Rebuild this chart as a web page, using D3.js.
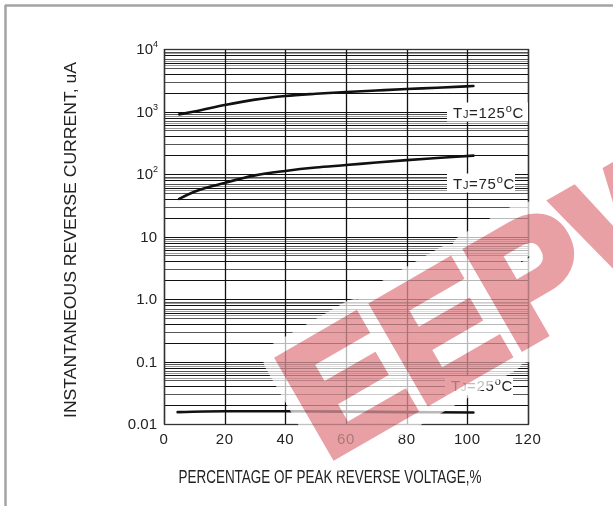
<!DOCTYPE html>
<html><head><meta charset="utf-8">
<script src="https://cdn.jsdelivr.net/npm/d3@7"></script>
<style>
html,body{margin:0;padding:0;background:#fff;}
svg{display:block;}
text{font-family:"Liberation Sans",Arial,sans-serif;}
</style></head>
<body><svg id="c" width="613" height="506"></svg>
<script>
// ---- data ----
const xTicks = [0, 20, 40, 60, 80, 100, 120];
const yTicks = [1e4, 1e3, 1e2, 10, 1, 0.1, 0.01];
const yTickLabels = [["10","4"], ["10","3"], ["10","2"], ["10",""], ["1.0",""], ["0.1",""], ["0.01",""]];
const xPct = [5, 10, 20, 30, 40, 50, 60, 70, 80, 90, 102];
const i125 = [900, 1000, 1270, 1550, 1770, 1920, 2050, 2170, 2290, 2400, 2560];
const i75  = [40, 52, 72, 95, 112, 127, 139, 153, 167, 180, 197];
const x25  = [4.5, 20, 40, 60, 80, 102];
const i25  = [0.0155, 0.0160, 0.0160, 0.0158, 0.0155, 0.0153];
const seriesLabels = [
  {t:"125", v:1000},
  {t:"75", v:73},
  {t:"25", v:0.042}
];
const minorMajor = [2,3,4,5,6,7,8,9];
const minorGrey = [5.5,6.5,8.5];

const svg = d3.select("#c");
const x = d3.scaleLinear().domain([0,120]).range([164,528]);
const y = d3.scaleLog().domain([0.01,1e4]).range([424,49]);

// frame
svg.append("line").attr("x1",5).attr("x2",613).attr("y1",5.5).attr("y2",5.5).attr("stroke","#a3a3a3").attr("stroke-width",2.5);
svg.append("line").attr("x1",5.5).attr("x2",5.5).attr("y1",5).attr("y2",506).attr("stroke","#a3a3a3").attr("stroke-width",2.5);

const g = svg.append("g");
// horizontal grid
const decades = [0.01,0.1,1,10,100,1000];
decades.forEach(d=>{
  minorGrey.forEach(m=>{
    g.append("line").attr("x1",164).attr("x2",528).attr("y1",Math.round(y(d*m))+0.5).attr("y2",Math.round(y(d*m))+0.5).attr("stroke","#999").attr("stroke-width",1);
  });
  minorMajor.forEach((m,k)=>{
    g.append("line").attr("x1",164).attr("x2",528).attr("y1",Math.round(y(d*m))+0.5).attr("y2",Math.round(y(d*m))+0.5).attr("stroke", k%2 ? "#555" : "#111").attr("stroke-width",1);
  });
});
yTicks.forEach(v=>{
  g.append("line").attr("x1",164).attr("x2",528).attr("y1",Math.round(y(v))+0.5).attr("y2",Math.round(y(v))+0.5).attr("stroke","#111").attr("stroke-width",1.2);
});
// vertical grid
xTicks.forEach(v=>{
  g.append("line").attr("x1",Math.round(x(v))+0.5).attr("x2",Math.round(x(v))+0.5).attr("y1",49).attr("y2",424).attr("stroke","#111").attr("stroke-width",1.3);
});
// border
g.append("rect").attr("x",164.5).attr("y",49.5).attr("width",364).attr("height",375).attr("fill","none").attr("stroke","#333").attr("stroke-width",1.3);

// tick labels
yTicks.forEach((v,i)=>{
  const t = svg.append("text").attr("x",157).attr("y",y(v)+5).attr("text-anchor","end").attr("font-size",15).attr("fill","#222");
  const lab = yTickLabels[i];
  if(lab[1]){
    t.attr("x",158);
    t.append("tspan").text(lab[0]);
    t.append("tspan").attr("font-size",9).attr("dy",-7).text(lab[1]);
  } else t.text(lab[0]);
});
xTicks.forEach(v=>{
  svg.append("text").attr("x",x(v)).attr("y",444).attr("text-anchor","middle").attr("font-size",15).attr("letter-spacing",0.6).attr("fill","#222").text(v);
});

// curves
const line = d3.line().curve(d3.curveMonotoneX);
function draw(xs, ys){
  svg.append("path").attr("d", line(xs.map((xv,i)=>[x(xv), y(ys[i])]))).attr("fill","none").attr("stroke","#111").attr("stroke-width",2.6).attr("stroke-linecap","round");
}
draw(xPct, i125);
draw(xPct, i75);
draw(x25, i25);

// series labels
const boxW = [81, 68, 68];
const boxX = [447, 447, 445];
seriesLabels.forEach((s,i)=>{
  const cy = y(s.v);
  const bx = boxX[i];
  svg.append("rect").attr("x",bx).attr("y",cy-9).attr("width",boxW[i]).attr("height",19).attr("fill","#fff");
  const t = svg.append("text").attr("x",bx+6).attr("y",cy+6).attr("font-size",15).attr("letter-spacing",0.7).attr("fill","#222");
  t.append("tspan").text("T");
  t.append("tspan").attr("font-size",11).text("J");
  t.append("tspan").text("="+s.t);
  t.append("tspan").attr("font-size",11).attr("dy",-6).text("o");
  t.append("tspan").attr("dy",6).text("C");
});

// axis titles
svg.append("text").attr("transform","translate(76,240) rotate(-90)").attr("text-anchor","middle")
  .attr("font-size",16).attr("textLength",356).attr("lengthAdjust","spacingAndGlyphs").attr("fill","#222")
  .text("INSTANTANEOUS REVERSE CURRENT, uA");
svg.append("text").attr("x",330).attr("y",483).attr("text-anchor","middle")
  .style("font-family","'Liberation Sans Narrow','Liberation Sans',Arial,sans-serif")
  .attr("font-size",18).attr("textLength",303).attr("lengthAdjust","spacingAndGlyphs").attr("fill","#222")
  .text("PERCENTAGE OF PEAK REVERSE VOLTAGE,%");

// watermark
const wm = svg.append("g").attr("transform","translate(326,460) rotate(-30)");
wm.append("text").attr("x",0).attr("y",0).attr("font-size",160).attr("font-weight","bold").attr("letter-spacing",2)
  .attr("fill","#fff").attr("stroke","#fff").attr("stroke-width",34).attr("stroke-linejoin","round").attr("opacity",0.7)
  .text("EEPW");
wm.append("text").attr("x",0).attr("y",0).attr("font-size",160).attr("font-weight","bold").attr("letter-spacing",2)
  .attr("fill","#e58f95").attr("stroke","#e58f95").attr("stroke-width",9).attr("stroke-linejoin","miter")
  .style("mix-blend-mode","multiply").attr("opacity",0.85)
  .text("EEPW");
</script></body></html>
